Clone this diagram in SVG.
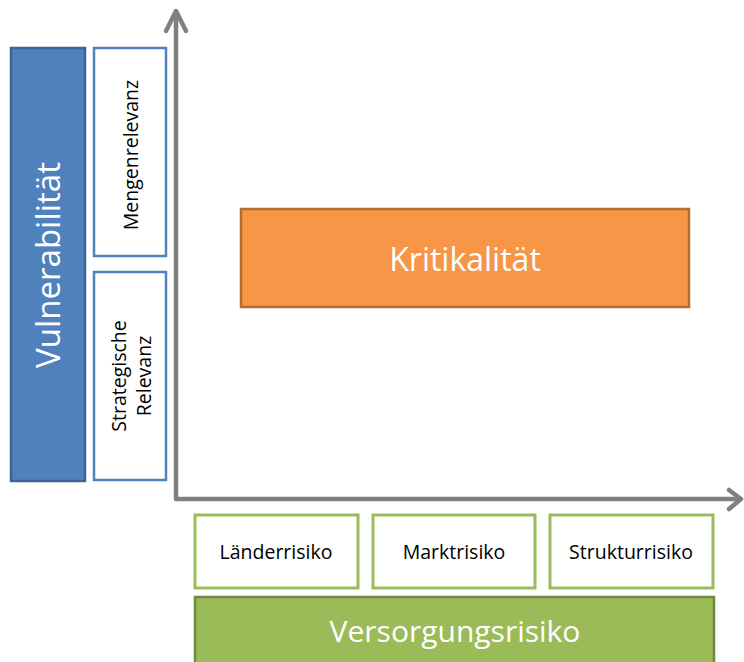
<svg xmlns="http://www.w3.org/2000/svg" width="744" height="662" viewBox="0 0 744 662">
<style>
  text { font-family: "Open Sans", "Liberation Sans", sans-serif; text-anchor: middle; dominant-baseline: central; }
  .blue { fill: #4F81BD; stroke: #3A6494; stroke-width: 2.5; }
  .blueout { fill: #FFFFFF; stroke: #4F81BD; stroke-width: 2.5; }
  .greenout { fill: #FFFFFF; stroke: #9BBB59; stroke-width: 3; }
  .green { fill: #9BBB59; stroke: #71893F; stroke-width: 2.5; }
  .orange { fill: #F79646; stroke: #B66D31; stroke-width: 2.5; }
  .axis { fill: none; stroke: #808080; stroke-width: 4.5; stroke-linecap: round; stroke-linejoin: round; }
  .big { fill: #FFFFFF; font-size: 31px; }
  .small { fill: #000000; font-size: 19.5px; }
</style>
<rect width="744" height="662" fill="#FFFFFF"/>
<g id="connectors">
  <polyline class="axis" points="176,12 176,499 740,499"/>
  <polyline class="axis" points="166,31 176,11 186,31"/>
  <polyline class="axis" points="729,490 741,499 729,509"/>
</g>
<g id="vulnerabilitaet">
  <rect class="blue" x="11" y="48" width="74" height="433"/>
  <text class="big" style="font-size:33px" transform="translate(47,265) rotate(-90)">Vulnerabilität</text>
</g>
<g id="mengenrelevanz">
  <rect class="blueout" x="94" y="48" width="72" height="208"/>
  <text class="small" transform="translate(130,155) rotate(-90)">Mengenrelevanz</text>
</g>
<g id="strategische-relevanz">
  <rect class="blueout" x="94" y="272" width="72" height="208"/>
  <text class="small" transform="translate(118,376) rotate(-90)">Strategische</text>
  <text class="small" transform="translate(143,376) rotate(-90)">Relevanz</text>
</g>
<g id="kritikalitaet">
  <rect class="orange" x="241" y="209" width="448" height="98"/>
  <text class="big" style="font-size:32px" x="465" y="258">Kritikalität</text>
</g>
<g id="laenderrisiko">
  <rect class="greenout" x="195" y="515" width="163" height="73"/>
  <text class="small" x="276" y="551">Länderrisiko</text>
</g>
<g id="marktrisiko">
  <rect class="greenout" x="373" y="515" width="162" height="73"/>
  <text class="small" x="454" y="551">Marktrisiko</text>
</g>
<g id="strukturrisiko">
  <rect class="greenout" x="550" y="515" width="163" height="73"/>
  <text class="small" x="631" y="551">Strukturrisiko</text>
</g>
<g id="versorgungsrisiko">
  <rect class="green" x="195" y="597" width="519" height="70"/>
  <text class="big" style="font-size:30px" x="455" y="630">Versorgungsrisiko</text>
</g>
</svg>
